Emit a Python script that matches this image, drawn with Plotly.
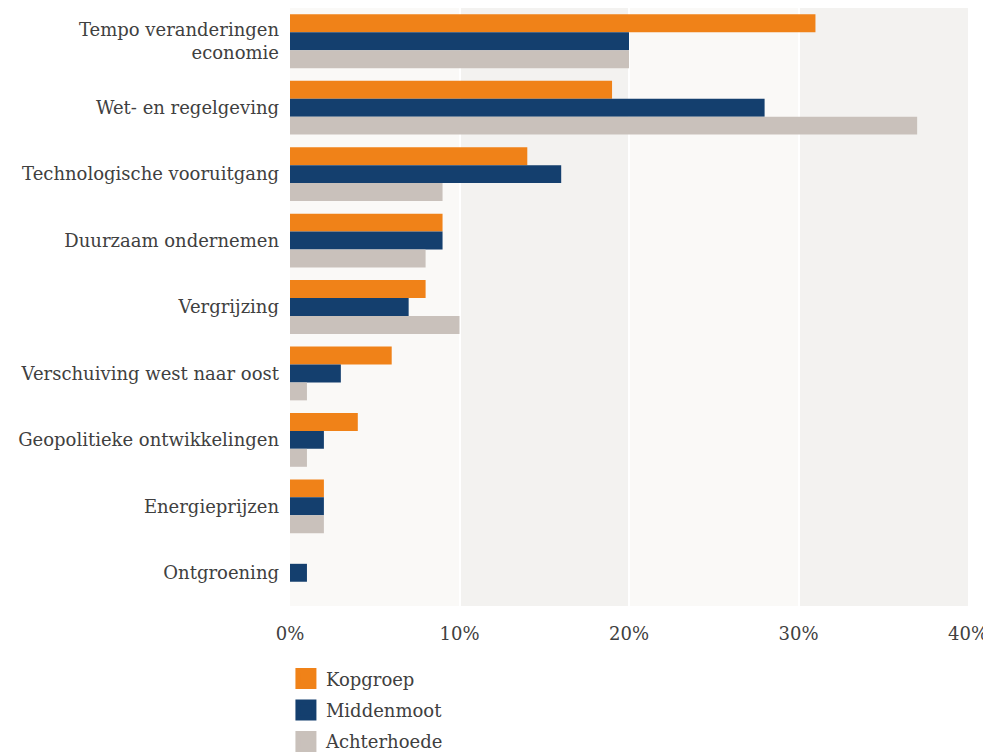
import plotly.graph_objects as go

categories = ["Tempo veranderingen<br>economie", "Wet- en regelgeving", "Technologische vooruitgang",
              "Duurzaam ondernemen", "Vergrijzing", "Verschuiving west naar oost",
              "Geopolitieke ontwikkelingen", "Energieprijzen", "Ontgroening"]
kopgroep = [31, 19, 14, 9, 8, 6, 4, 2, 0]
middenmoot = [20, 28, 16, 9, 7, 3, 2, 2, 1]
achterhoede = [20, 37, 9, 8, 10, 1, 1, 2, 0]
series_names = ["Kopgroep", "Middenmoot", "Achterhoede"]
colors = ["#f08218", "#143f6e", "#c9c1bb"]
tick_vals = [0, 10, 20, 30, 40]
tick_text = ["0%", "10%", "20%", "30%", "40%"]

FONT = "DejaVu Serif"
TXT = "#404040"

fig = go.Figure()
for name, vals, col in zip(series_names, [kopgroep, middenmoot, achterhoede], colors):
    fig.add_trace(go.Bar(y=categories, x=vals, orientation="h", name=name,
                         marker=dict(color=col, line=dict(width=0)), showlegend=False))
for name, col in zip(series_names, colors):
    fig.add_trace(go.Scatter(x=[None], y=[None], mode="markers", name=name, legendgroup=name,
                             marker=dict(symbol="square", size=22, color=col,
                                         line=dict(color=col, width=5))))

band_colors = ["#faf9f7", "#f3f2f0", "#faf9f7", "#f3f2f0"]
for i, bc in enumerate(band_colors):
    fig.add_shape(type="rect", xref="x", yref="paper", x0=tick_vals[i], x1=tick_vals[i + 1],
                  y0=0, y1=1, fillcolor=bc, line=dict(width=0), layer="below")

fig.update_layout(
    width=983, height=745,
    margin=dict(l=282, r=23, t=0, b=147, autoexpand=False),
    barmode="group", bargap=0.19, bargroupgap=0,
    plot_bgcolor="white", paper_bgcolor="white",
    font=dict(family=FONT, size=18, color=TXT),
    legend=dict(x=-0.006, xanchor="left", y=-0.091, yanchor="top", orientation="v",
                font=dict(family=FONT, size=18, color=TXT), itemsizing="trace",
                tracegroupgap=5, bgcolor="rgba(0,0,0,0)"),
)
fig.update_xaxes(range=[0, 40], tickvals=tick_vals, ticktext=tick_text, showgrid=True,
                 gridcolor="white", gridwidth=2, zeroline=False, showline=False, automargin=False,
                 ticks="", ticklabelstandoff=15, tickfont=dict(size=18, color=TXT))
fig.update_yaxes(autorange="reversed", showgrid=False, zeroline=False, showline=False,
                 automargin=False, ticks="", ticklabelstandoff=10, tickfont=dict(size=18, color=TXT))

fig.write_html("out.html")
